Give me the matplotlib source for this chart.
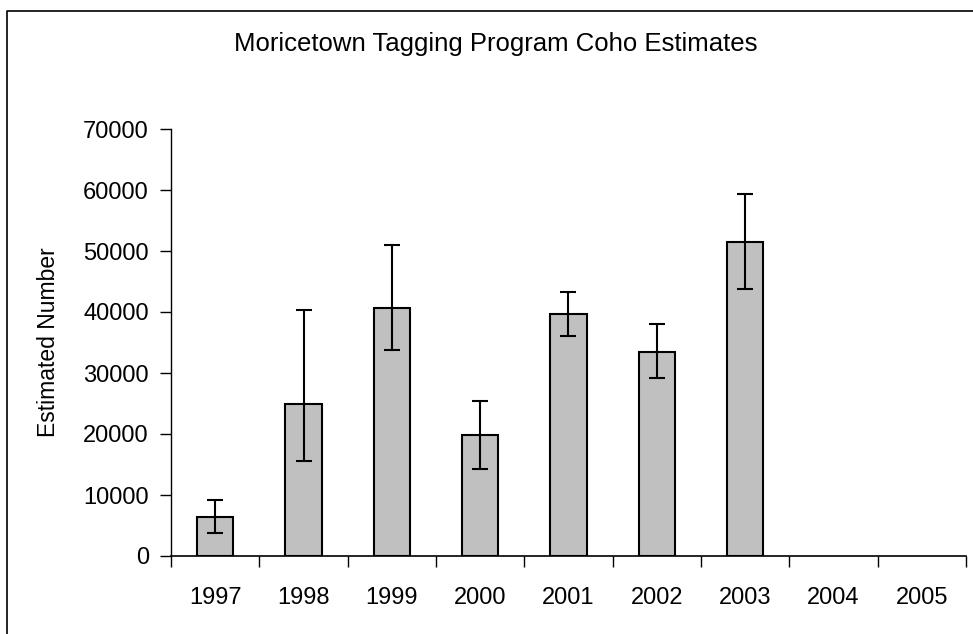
import matplotlib
matplotlib.use("Agg")
import matplotlib.pyplot as plt
from matplotlib.lines import Line2D
import numpy as np

years = ["1997", "1998", "1999", "2000", "2001", "2002", "2003", "2004", "2005"]
estimates = [6400, 25000, 40700, 19800, 39600, 33500, 51400]
lower = [3700, 15500, 33800, 14300, 36100, 29200, 43700]
upper = [9100, 40300, 51000, 25400, 43300, 38000, 59300]
yticks = [0, 10000, 20000, 30000, 40000, 50000, 60000, 70000]


def main():
    plt.rcParams['font.family'] = ['Liberation Sans', 'DejaVu Sans']

    W, H = 973, 634
    fig = plt.figure(figsize=(W / 100, H / 100), dpi=100)
    fig.patch.set_facecolor("white")

    # axes box (pixel coords)
    left, right, top, bottom = 171, 966, 129, 556
    ax = fig.add_axes([left / W, 1 - bottom / H, (right - left) / W, (bottom - top) / H])

    x = np.arange(len(estimates))
    est = np.array(estimates)
    yerr = [est - np.array(lower), np.array(upper) - est]

    ax.bar(x, est, width=0.415, color="#c0c0c0", edgecolor="black", linewidth=1.5, zorder=2)
    ax.errorbar(x, est, yerr=yerr, fmt="none", ecolor="black", elinewidth=1.5,
                capsize=6, capthick=1.5, zorder=3)

    ax.set_xlim(-0.5, len(years) - 0.5)
    ax.set_ylim(0, 70000)
    ax.set_yticks(yticks)
    ax.set_yticklabels([str(v) for v in yticks])

    # labels in the middle, tick marks at the category borders
    ax.set_xticks(np.arange(len(years)))
    ax.set_xticklabels(years)
    ax.set_xticks(np.arange(len(years) + 1) - 0.5, minor=True)
    ax.tick_params(axis="x", which="major", length=0, pad=22, labelsize=17)
    ax.tick_params(axis="x", which="minor", length=8, width=1, direction="out")
    ax.tick_params(axis="y", length=8, width=1, pad=8, labelsize=17)

    for s in ["top", "right"]:
        ax.spines[s].set_visible(False)
    ax.spines["left"].set_linewidth(1)
    ax.spines["bottom"].set_linewidth(1.2)

    ax.set_ylabel("Estimated Number", fontsize=16.5)
    ax.yaxis.set_label_coords((60 - left) / (right - left), 0.5)

    fig.text(495.5 / W, 1 - 44.5 / H, "Moricetown Tagging Program Coho Estimates",
             ha="center", va="center", fontsize=18.5)

    # chart area border (only left and top edges are inside the picture)
    fig.add_artist(Line2D([7 / W, 7 / W, 1.01], [-0.01, 1 - 11 / H, 1 - 11 / H],
                          transform=fig.transFigure, color="black", linewidth=1.2))

    fig.savefig("out.png", dpi=100)


if __name__ == "__main__":
    main()
